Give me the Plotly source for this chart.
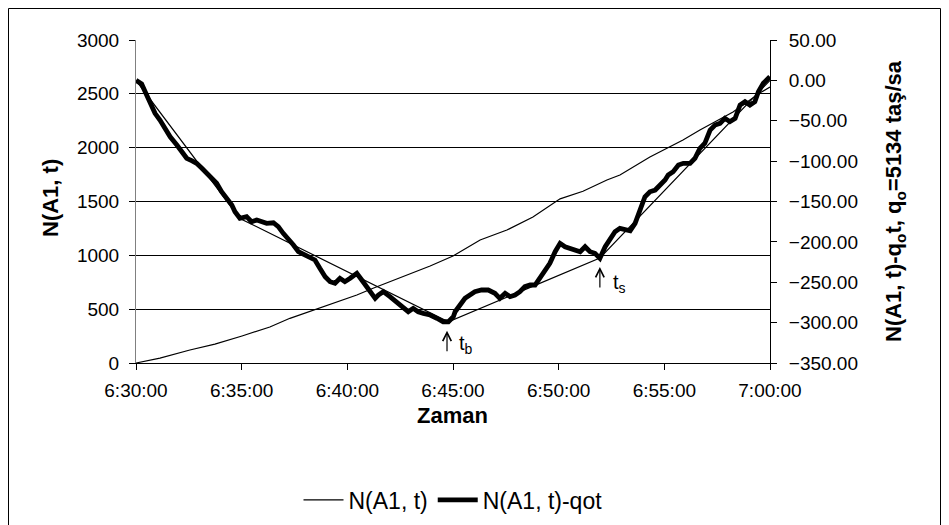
import plotly.graph_objects as go

# ---- data ----
n_times = ["06:30:00", "06:31:08", "06:32:33", "06:33:44", "06:35:01", "06:36:20",
           "06:37:17", "06:38:42", "06:40:27", "06:41:13", "06:42:30", "06:43:55",
           "06:45:00", "06:46:17", "06:47:33", "06:48:47", "06:50:04", "06:51:09",
           "06:52:17", "06:52:54", "06:54:19", "06:55:53", "06:56:41", "06:58:15",
           "06:59:31", "07:00:00"]
n_vals = [0, 46, 121, 176, 251, 334, 415, 511, 632, 694, 789, 901, 994, 1142, 1235,
          1356, 1525, 1595, 1700, 1746, 1913, 2071, 2164, 2331, 2508, 2563]

q_times = ["06:30:00", "06:30:16", "06:30:26", "06:30:35", "06:30:45", "06:30:54",
           "06:31:08", "06:31:22", "06:31:37", "06:31:56", "06:32:10", "06:32:24",
           "06:32:38", "06:32:52", "06:33:07", "06:33:21", "06:33:35", "06:33:49",
           "06:34:03", "06:34:18", "06:34:32", "06:34:41", "06:34:55", "06:35:14",
           "06:35:28", "06:35:43", "06:35:57", "06:36:11", "06:36:30", "06:36:44",
           "06:36:58", "06:37:12", "06:37:27", "06:37:41", "06:37:50", "06:38:14",
           "06:38:28", "06:38:42", "06:38:57", "06:39:11", "06:39:25", "06:39:39",
           "06:39:53", "06:40:08", "06:40:27", "06:40:41", "06:40:55", "06:41:09",
           "06:41:19", "06:41:28", "06:41:42", "06:42:01", "06:42:20", "06:42:39",
           "06:42:53", "06:43:07", "06:43:21", "06:43:36", "06:43:55", "06:44:14",
           "06:44:32", "06:44:47", "06:45:01", "06:45:06", "06:45:20", "06:45:34",
           "06:45:48", "06:46:02", "06:46:21", "06:46:40", "06:46:59", "06:47:13",
           "06:47:28", "06:47:42", "06:47:56", "06:48:10", "06:48:24", "06:48:39",
           "06:48:53", "06:49:07", "06:49:21", "06:49:35", "06:49:50", "06:50:04",
           "06:50:18", "06:50:32", "06:50:46", "06:51:01", "06:51:15", "06:51:29",
           "06:51:43", "06:51:57", "06:52:12", "06:52:26", "06:52:40", "06:52:54",
           "06:53:08", "06:53:23", "06:53:37", "06:53:51", "06:54:05", "06:54:19",
           "06:54:34", "06:54:48", "06:55:02", "06:55:11", "06:55:25", "06:55:40",
           "06:55:54", "06:56:13", "06:56:27", "06:56:41", "06:56:55", "06:57:10",
           "06:57:24", "06:57:38", "06:57:52", "06:58:06", "06:58:21", "06:58:35",
           "06:58:49", "06:59:03", "06:59:17", "06:59:27", "06:59:41", "06:59:55",
           "07:00:00"]
q_vals = [0.0, -4.5, -14.0, -22.2, -34.6, -40.8, -49.1, -59.4, -69.8, -80.0, -88.3, -96.5,
          -99.5, -102.7, -108.9, -115.1, -119.3, -127.5, -137.9, -146.0, -154.3, -162.6,
          -170.8, -168.8, -175.0, -172.9, -175.0, -177.0, -176.3, -181.2, -189.4, -195.6,
          -203.9, -212.2, -214.1, -218.4, -222.4, -232.7, -243.1, -249.3, -251.3, -245.1,
          -249.3, -245.1, -238.9, -247.2, -255.5, -261.7, -269.9, -265.8, -261.7, -267.9,
          -274.1, -280.3, -286.5, -282.3, -286.5, -288.5, -290.6, -294.6, -298.9, -298.9,
          -292.7, -286.5, -278.2, -269.9, -265.8, -261.7, -259.6, -259.6, -263.7, -269.9,
          -263.7, -267.9, -265.8, -261.7, -255.5, -253.4, -253.4, -245.1, -236.9, -226.5,
          -212.2, -201.8, -206.0, -208.0, -210.1, -212.2, -206.0, -212.2, -214.1, -220.3,
          -206.0, -197.7, -187.4, -183.2, -184.4, -186.2, -177.0, -160.5, -144.1, -137.9,
          -135.8, -129.6, -123.4, -117.2, -113.1, -104.8, -102.7, -102.7, -96.5, -84.1,
          -77.9, -61.5, -55.3, -53.2, -47.0, -51.2, -47.0, -30.5, -26.4, -30.5, -26.4,
          -14.0, -3.6, 2.6, 0.5]

seg_times = ["06:30:00", "06:34:55", "06:44:47", "06:51:57", "07:00:00"]
seg_vals = [0, -171, -299, -220, 0]

x_ticks = ["06:30:00", "06:35:00", "06:40:00", "06:45:00", "06:50:00", "06:55:00", "07:00:00"]

day = "2000-01-01 "
FONT = "Liberation Sans, Arial, sans-serif"

def ts(lst):
    return [day + t for t in lst]

fig = go.Figure()
fig.add_trace(go.Scatter(x=ts(n_times), y=n_vals, mode="lines", name="N(A1, t)",
                         line=dict(color="black", width=1.2), yaxis="y"))
fig.add_trace(go.Scatter(x=ts(seg_times), y=seg_vals, mode="lines", showlegend=False,
                         line=dict(color="black", width=1.2), yaxis="y2"))
fig.add_trace(go.Scatter(x=ts(q_times), y=q_vals, mode="lines", name="N(A1, t)-qot",
                         line=dict(color="black", width=4.8), yaxis="y2"))

# page is shown with an 8px body offset; plot area should sit at x 136-770, y 40-363 on the page
fig.update_layout(
    width=949, height=525,
    margin=dict(l=128, r=187, t=32, b=170, autoexpand=False),
    paper_bgcolor="white", plot_bgcolor="white",
    font=dict(family=FONT, size=19, color="black"),
    showlegend=True,
    legend=dict(orientation="h", x=(453 - 136) / 634, xanchor="center",
                y=(363 - 500) / 323, yanchor="middle", font=dict(size=23),
                itemwidth=40, bgcolor="rgba(0,0,0,0)"),
    xaxis=dict(type="date", range=[day + "06:30:00", day + "07:00:00"],
               tickvals=ts(x_ticks), tickformat="%-H:%M:%S", tickfont=dict(size=19),
               showgrid=False, showline=True, linecolor="black", linewidth=1,
               ticks="outside", ticklen=6, tickcolor="black", ticklabelstandoff=4,
               zeroline=False),
    yaxis=dict(range=[0, 3000], dtick=500, tick0=0, showgrid=True, gridcolor="black",
               gridwidth=1, showline=True, linecolor="#808080", linewidth=1,
               ticks="outside", ticklen=6, tickcolor="black", ticklabelstandoff=6,
               zeroline=False),
    yaxis2=dict(range=[-350, 50], dtick=50, tick0=0, overlaying="y", side="right",
                tickformat=".2f", showgrid=False, showline=True, linecolor="black",
                linewidth=1, ticks="outside", ticklen=6, tickcolor="black",
                ticklabelstandoff=8, zeroline=False),
)

annotations = [
    dict(text="<b>N(A1, t)</b>", xref="paper", yref="paper", x=(50 - 136) / 634,
         y=(363 - 198) / 323, xanchor="center", yanchor="middle", textangle=-90,
         showarrow=False, font=dict(size=22)),
    dict(text="<b>N(A1, t)-q<sub>o</sub>t, q<sub>o</sub>=5134 taş/sa</b>", xref="paper",
         yref="paper", x=(895 - 136) / 634, y=(363 - 201) / 323, xanchor="center",
         yanchor="middle", textangle=-90, showarrow=False, font=dict(size=22)),
    dict(text="<b>Zaman</b>", xref="paper", yref="paper", x=(452 - 136) / 634,
         y=(363 - 415) / 323, xanchor="center", yanchor="middle", showarrow=False,
         font=dict(size=22)),
    dict(text="", x=day + "06:44:43", y=-310, xref="x", yref="y2", ax=0, ay=22,
         showarrow=True, arrowhead=5, arrowsize=1.4, arrowwidth=1.2, arrowcolor="black"),
    dict(text="", x=day + "06:51:57", y=-231, xref="x", yref="y2", ax=0, ay=22,
         showarrow=True, arrowhead=5, arrowsize=1.4, arrowwidth=1.2, arrowcolor="black"),
    dict(text="t<sub>b</sub>", x=day + "06:45:37", y=-327, xref="x", yref="y2",
         xanchor="center", yanchor="middle", showarrow=False, font=dict(size=20)),
    dict(text="t<sub>s</sub>", x=day + "06:52:54", y=-251, xref="x", yref="y2",
         xanchor="center", yanchor="middle", showarrow=False, font=dict(size=20)),
]
fig.update_layout(annotations=annotations)

fig.update_layout(shapes=[
    dict(type="rect", xref="x", yref="y2", x0=day + "06:45:11", x1=day + "06:46:39",
         y0=-354, y1=-337, fillcolor="white", line=dict(width=0), layer="above"),
    dict(type="rect", xref="paper", yref="paper", x0=(8.5 - 136) / 634,
         x1=(940.5 - 136) / 634, y0=(363 - 540) / 323, y1=(363 - 8.5) / 323,
         line=dict(color="black", width=1), fillcolor="rgba(0,0,0,0)", layer="above"),
])

fig.write_html("out.html")
